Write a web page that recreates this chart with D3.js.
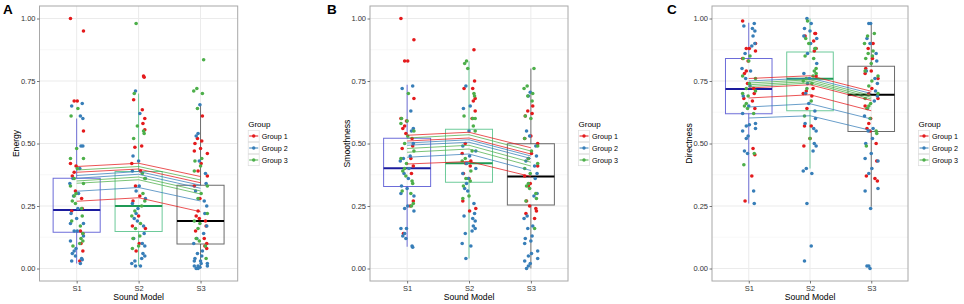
<!DOCTYPE html>
<html><head><meta charset="utf-8">
<script src="https://cdn.jsdelivr.net/npm/d3@7"></script>
<style>
body{margin:0;background:#fff}
svg{display:block}
text{font-family:"Liberation Sans",Arial,Helvetica,sans-serif}
</style>
</head><body>
<svg id="c" width="964" height="304"></svg>
<script>
// ---------- data ----------
const categories = ["S1", "S2", "S3"];
const groups = ["Group 1", "Group 2", "Group 3"];
const groupColors = ["#e41a1c", "#377eb8", "#4daf4a"];
const boxColors = ["#3b3bcc", "#3cb878", "#3a3a3a"];
const medianColors = ["#1c1c9e", "#1f9a55", "#000000"];
const yTicks = [0, 0.25, 0.5, 0.75, 1];
const yMinorTicks = [0.125, 0.375, 0.625, 0.875];
const xTitle = "Sound Model";
const panelLetters = ["A", "B", "C"];
const yTitles = ["Energy", "Smoothness", "Directness"];
const legendTitle = "Group";

// jittered points per category: [Group 1, Group 2, Group 3]
const energyS1 = [
  [1.00, 0.95, 0.67, 0.67, 0.55, 0.42, 0.41, 0.385, 0.37, 0.31, 0.28, 0.24, 0.23, 0.15, 0.14, 0.10, 0.07, 0.03],
  [0.66, 0.65, 0.61, 0.60, 0.49, 0.49, 0.40, 0.36, 0.34, 0.30, 0.29, 0.24, 0.22, 0.20, 0.18, 0.18, 0.15, 0.15, 0.13, 0.11, 0.08, 0.07, 0.06, 0.05, 0.04, 0.035, 0.03, 0.02],
  [0.64, 0.61, 0.48, 0.44, 0.44, 0.40, 0.36, 0.34, 0.33, 0.30, 0.29, 0.27, 0.26, 0.24, 0.21, 0.19, 0.17, 0.14, 0.12, 0.11, 0.10, 0.09]
];
const energyS2 = [
  [0.77, 0.765, 0.675, 0.635, 0.60, 0.58, 0.555, 0.49, 0.485, 0.42, 0.39, 0.33, 0.29, 0.27, 0.21, 0.17, 0.16, 0.10, 0.07],
  [0.71, 0.62, 0.45, 0.43, 0.39, 0.36, 0.33, 0.31, 0.28, 0.26, 0.24, 0.22, 0.20, 0.19, 0.17, 0.14, 0.12, 0.10, 0.09, 0.06, 0.05, 0.04, 0.03, 0.02, 0.01, 0.01],
  [0.98, 0.70, 0.57, 0.55, 0.54, 0.52, 0.38, 0.36, 0.30, 0.27, 0.25, 0.23, 0.21, 0.18, 0.16, 0.13, 0.12, 0.09, 0.08]
];
const energyS3 = [
  [0.61, 0.52, 0.51, 0.50, 0.48, 0.47, 0.46, 0.42, 0.39, 0.37, 0.33, 0.28, 0.23, 0.21, 0.20, 0.19, 0.17, 0.15, 0.12, 0.10, 0.09, 0.08],
  [0.655, 0.54, 0.53, 0.43, 0.38, 0.34, 0.31, 0.27, 0.25, 0.22, 0.17, 0.14, 0.12, 0.10, 0.07, 0.06, 0.05, 0.04, 0.03, 0.03, 0.02, 0.02, 0.01, 0.01, 0.01, 0.005, 0.0, 0.0],
  [0.835, 0.72, 0.71, 0.70, 0.64, 0.44, 0.43, 0.41, 0.39, 0.33, 0.30, 0.28, 0.22, 0.19, 0.18, 0.16, 0.12, 0.11, 0.09, 0.04]
];
const smoothS1 = [
  [1.00, 0.915, 0.83, 0.83, 0.68, 0.60, 0.59, 0.57, 0.56, 0.54, 0.52, 0.49, 0.48, 0.44, 0.41, 0.38, 0.27, 0.25, 0.14],
  [0.73, 0.72, 0.63, 0.56, 0.55, 0.50, 0.45, 0.44, 0.43, 0.40, 0.38, 0.36, 0.33, 0.32, 0.30, 0.29, 0.25, 0.24, 0.23, 0.16, 0.16, 0.14, 0.13, 0.12, 0.09, 0.085],
  [0.70, 0.60, 0.59, 0.58, 0.55, 0.53, 0.50, 0.47, 0.44, 0.42, 0.40, 0.39, 0.37, 0.35, 0.34, 0.31, 0.30, 0.26, 0.25]
];
const smoothS2 = [
  [0.875, 0.75, 0.72, 0.72, 0.68, 0.67, 0.63, 0.60, 0.50, 0.46, 0.43, 0.42, 0.41, 0.38, 0.36, 0.27, 0.24, 0.23],
  [0.73, 0.65, 0.64, 0.55, 0.49, 0.47, 0.45, 0.42, 0.40, 0.38, 0.36, 0.34, 0.32, 0.31, 0.26, 0.22, 0.21, 0.20, 0.19, 0.17, 0.16, 0.15, 0.14, 0.10, 0.09, 0.04],
  [0.83, 0.82, 0.80, 0.70, 0.69, 0.61, 0.60, 0.60, 0.57, 0.55, 0.47, 0.44, 0.43, 0.39, 0.36, 0.35, 0.33, 0.29, 0.28]
];
const smoothS3 = [
  [0.65, 0.63, 0.62, 0.61, 0.53, 0.52, 0.50, 0.46, 0.44, 0.41, 0.37, 0.34, 0.33, 0.27, 0.25, 0.24, 0.23, 0.22, 0.20],
  [0.705, 0.69, 0.55, 0.53, 0.49, 0.45, 0.43, 0.41, 0.38, 0.36, 0.30, 0.29, 0.21, 0.20, 0.17, 0.16, 0.13, 0.12, 0.11, 0.10, 0.07, 0.06, 0.05, 0.04, 0.03, 0.02, 0.01, 0.0],
  [0.80, 0.73, 0.72, 0.70, 0.69, 0.67, 0.61, 0.60, 0.52, 0.49, 0.47, 0.44, 0.42, 0.40, 0.38, 0.34, 0.33, 0.32, 0.30, 0.28, 0.27, 0.16]
];
const directS1 = [
  [0.99, 0.90, 0.88, 0.88, 0.87, 0.84, 0.83, 0.79, 0.78, 0.74, 0.72, 0.70, 0.68, 0.67, 0.64, 0.48, 0.455, 0.37, 0.27],
  [0.98, 0.97, 0.96, 0.95, 0.93, 0.90, 0.89, 0.86, 0.80, 0.79, 0.76, 0.73, 0.69, 0.65, 0.62, 0.58, 0.575, 0.57, 0.56, 0.55, 0.53, 0.52, 0.47, 0.46, 0.31, 0.26],
  [0.85, 0.84, 0.83, 0.77, 0.76, 0.74, 0.72, 0.71, 0.70, 0.69, 0.66, 0.65, 0.64, 0.62, 0.46, 0.415]
];
const directS2 = [
  [0.94, 0.94, 0.93, 0.91, 0.88, 0.87, 0.77, 0.72, 0.71, 0.70, 0.69, 0.64, 0.57, 0.57, 0.52, 0.49],
  [1.00, 0.98, 0.96, 0.95, 0.93, 0.92, 0.90, 0.86, 0.82, 0.78, 0.76, 0.74, 0.70, 0.66, 0.63, 0.60, 0.58, 0.56, 0.55, 0.50, 0.49, 0.47, 0.40, 0.39, 0.38, 0.26, 0.09, 0.03],
  [0.99, 0.92, 0.90, 0.88, 0.88, 0.85, 0.84, 0.80, 0.79, 0.78, 0.77, 0.76, 0.75, 0.74, 0.72, 0.67, 0.61, 0.52]
];
const directS3 = [
  [0.90, 0.88, 0.84, 0.80, 0.79, 0.78, 0.76, 0.72, 0.70, 0.68, 0.65, 0.60, 0.58, 0.56, 0.55, 0.50, 0.43, 0.37, 0.36, 0.35],
  [0.98, 0.98, 0.92, 0.90, 0.86, 0.83, 0.79, 0.76, 0.74, 0.71, 0.69, 0.67, 0.64, 0.61, 0.56, 0.55, 0.52, 0.50, 0.46, 0.44, 0.43, 0.40, 0.38, 0.32, 0.31, 0.24, 0.01, 0.01, 0.0],
  [0.94, 0.93, 0.90, 0.87, 0.86, 0.85, 0.84, 0.82, 0.79, 0.77, 0.75, 0.73, 0.70, 0.68, 0.66, 0.65, 0.64, 0.60, 0.55, 0.54, 0.49]
];

// box stats per category: [lower whisker, Q1, median, Q3, upper whisker]
const energyBoxes = [[0.02, 0.145, 0.234, 0.361, 0.60], [0.01, 0.148, 0.25, 0.388, 0.70], [0.0, 0.098, 0.19, 0.333, 0.655]];
const smoothBoxes = [[0.087, 0.328, 0.401, 0.521, 0.735], [0.04, 0.345, 0.421, 0.557, 0.829], [0.0, 0.254, 0.368, 0.499, 0.80]];
const directBoxes = [[0.26, 0.619, 0.718, 0.84, 0.983], [0.40, 0.631, 0.759, 0.866, 1.0], [0.247, 0.548, 0.695, 0.809, 0.983]];

// fitted lines: [group index, S1, S2, S3]
const energyLines = [
  [0, 0.408, 0.421, 0.368], [2, 0.394, 0.408, 0.354], [0, 0.385, 0.398, 0.343],
  [1, 0.372, 0.388, 0.333], [1, 0.361, 0.377, 0.321], [2, 0.350, 0.366, 0.310],
  [2, 0.341, 0.355, 0.298], [1, 0.309, 0.324, 0.270], [0, 0.269, 0.283, 0.227]
];
const smoothLines = [
  [0, 0.533, 0.545, 0.483], [2, 0.522, 0.535, 0.470], [0, 0.510, 0.522, 0.458],
  [1, 0.502, 0.515, 0.450], [1, 0.493, 0.505, 0.440], [2, 0.480, 0.493, 0.425],
  [2, 0.465, 0.478, 0.410], [1, 0.445, 0.458, 0.392], [0, 0.418, 0.428, 0.368]
];
const directLines = [
  [0, 0.760, 0.771, 0.709], [1, 0.750, 0.762, 0.700], [2, 0.742, 0.755, 0.692],
  [2, 0.735, 0.748, 0.685], [2, 0.728, 0.742, 0.678], [0, 0.722, 0.735, 0.672],
  [0, 0.682, 0.695, 0.631], [1, 0.646, 0.659, 0.598], [1, 0.602, 0.611, 0.552]
];

// ---------- layout ----------
const jitterPattern = [-0.10, 0.05, -0.02, 0.11, -0.06, 0.08, 0.01, -0.11, 0.09, -0.04, 0.03, -0.08, 0.11, -0.05, 0.06, -0.10, 0.02, 0.10, -0.01, -0.09, 0.07, -0.04, 0.0, 0.10, -0.07];
const panels = [
  {letter: panelLetters[0], letterX: 3, title: yTitles[0], left: 39.5, right: 237.7, points: [energyS1, energyS2, energyS3], boxes: energyBoxes, lines: energyLines},
  {letter: panelLetters[1], letterX: 327, title: yTitles[1], left: 370, right: 568, points: [smoothS1, smoothS2, smoothS3], boxes: smoothBoxes, lines: smoothLines},
  {letter: panelLetters[2], letterX: 667, title: yTitles[2], left: 712, right: 908, points: [directS1, directS2, directS3], boxes: directBoxes, lines: directLines}
];
const plotTop = 6, plotBottom = 281;

const svg = d3.select("#c");
const y = d3.scaleLinear().domain([-0.05, 1.05]).range([plotBottom, plotTop]);

panels.forEach(p => {
  const g = svg.append("g");
  const x = d3.scaleLinear().domain([0.4, categories.length + 0.6]).range([p.left, p.right]);
  const cx = i => x(i + 1);

  // background + grid
  g.append("rect").attr("x", p.left).attr("y", plotTop).attr("width", p.right - p.left).attr("height", plotBottom - plotTop).attr("fill", "#fff");
  g.selectAll(".ymin").data(yMinorTicks).join("line")
    .attr("x1", p.left).attr("x2", p.right).attr("y1", d => y(d)).attr("y2", d => y(d))
    .attr("stroke", "#f4f4f4").attr("stroke-width", 0.6);
  g.selectAll(".ymaj").data(yTicks).join("line")
    .attr("x1", p.left).attr("x2", p.right).attr("y1", d => y(d)).attr("y2", d => y(d))
    .attr("stroke", "#ebebeb").attr("stroke-width", 1);
  g.selectAll(".xmaj").data(categories).join("line")
    .attr("x1", (d, i) => cx(i)).attr("x2", (d, i) => cx(i)).attr("y1", plotTop).attr("y2", plotBottom)
    .attr("stroke", "#ebebeb").attr("stroke-width", 1);

  // boxplots
  const bw = 0.38;
  p.boxes.forEach((b, i) => {
    const bg = g.append("g");
    const col = boxColors[i];
    bg.append("line").attr("x1", cx(i)).attr("x2", cx(i)).attr("y1", y(b[0])).attr("y2", y(b[1]))
      .attr("stroke", col).attr("stroke-opacity", 0.7).attr("stroke-width", 1);
    bg.append("line").attr("x1", cx(i)).attr("x2", cx(i)).attr("y1", y(b[3])).attr("y2", y(b[4]))
      .attr("stroke", col).attr("stroke-opacity", 0.7).attr("stroke-width", 1);
    bg.append("rect").attr("x", x(i + 1 - bw)).attr("y", y(b[3]))
      .attr("width", x(i + 1 + bw) - x(i + 1 - bw)).attr("height", y(b[1]) - y(b[3]))
      .attr("fill", "none").attr("stroke", col).attr("stroke-opacity", 0.75).attr("stroke-width", 1);
    bg.append("line").attr("x1", x(i + 1 - bw)).attr("x2", x(i + 1 + bw)).attr("y1", y(b[2])).attr("y2", y(b[2]))
      .attr("stroke", medianColors[i]).attr("stroke-width", 1.8);
  });

  // points
  p.points.forEach((cat, ci) => {
    cat.forEach((vals, gi) => {
      g.append("g").selectAll("circle").data(vals).join("circle")
        .attr("cx", (d, k) => x(ci + 1 + jitterPattern[(k * 3 + gi * 8 + ci * 5) % jitterPattern.length]))
        .attr("cy", d => y(d))
        .attr("r", 1.8)
        .attr("fill", groupColors[gi]);
    });
  });

  // lines
  const line = d3.line().x((d, i) => cx(i)).y(d => y(d));
  g.selectAll(".fit").data(p.lines).join("path")
    .attr("d", d => line(d.slice(1)))
    .attr("fill", "none")
    .attr("stroke", d => groupColors[d[0]])
    .attr("stroke-opacity", 0.75)
    .attr("stroke-width", 1);

  // border
  g.append("rect").attr("x", p.left).attr("y", plotTop).attr("width", p.right - p.left).attr("height", plotBottom - plotTop)
    .attr("fill", "none").attr("stroke", "#a8a8a8").attr("stroke-width", 1);

  // axes
  const yAxis = d3.axisLeft(y).tickValues(yTicks).tickFormat(d3.format(".2f")).tickSize(2.5).tickPadding(1.5);
  const ya = g.append("g").attr("transform", `translate(${p.left},0)`).call(yAxis);
  const xAxis = d3.axisBottom(x).tickValues([1, 2, 3]).tickFormat(d => categories[d - 1]).tickSize(2.5).tickPadding(2);
  const xa = g.append("g").attr("transform", `translate(0,${plotBottom})`).call(xAxis);
  [ya, xa].forEach(a => {
    a.select(".domain").remove();
    a.selectAll(".tick line").attr("stroke", "#555").attr("stroke-width", 0.8);
    a.selectAll(".tick text").attr("fill", "#333").style("font-size", "7.5px").style("font-family", '"Liberation Sans", Arial, sans-serif');
  });

  // titles
  g.append("text").attr("x", (p.left + p.right) / 2).attr("y", 299.5).attr("text-anchor", "middle")
    .style("font-size", "8.6px").attr("fill", "#000").text(xTitle);
  g.append("text").attr("transform", `translate(${p.left - 20.5},${(plotTop + plotBottom) / 2}) rotate(-90)`)
    .attr("text-anchor", "middle").style("font-size", "8.6px").attr("fill", "#000").text(p.title);
  g.append("text").attr("x", p.letterX).attr("y", 13.5).style("font-size", "13.5px").style("font-weight", "bold")
    .attr("fill", "#000").text(p.letter);

  // legend
  const lx = p.right + 10.5;
  g.append("text").attr("x", lx).attr("y", 126.5).style("font-size", "8px").attr("fill", "#000").text(legendTitle);
  groups.forEach((name, gi) => {
    const cy = 136 + gi * 12;
    g.append("rect").attr("x", lx).attr("y", cy - 5.7).attr("width", 11).attr("height", 11.4)
      .attr("fill", "#fff").attr("stroke", "#dcdcdc").attr("stroke-width", 0.7);
    g.append("line").attr("x1", lx + 1).attr("x2", lx + 10).attr("y1", cy).attr("y2", cy)
      .attr("stroke", groupColors[gi]).attr("stroke-width", 1);
    g.append("circle").attr("cx", lx + 5.5).attr("cy", cy).attr("r", 1.7).attr("fill", groupColors[gi]);
    g.append("text").attr("x", lx + 13.5).attr("y", cy + 2.6).style("font-size", "7.2px").attr("fill", "#000").text(name);
  });
});
</script>
</body></html>
